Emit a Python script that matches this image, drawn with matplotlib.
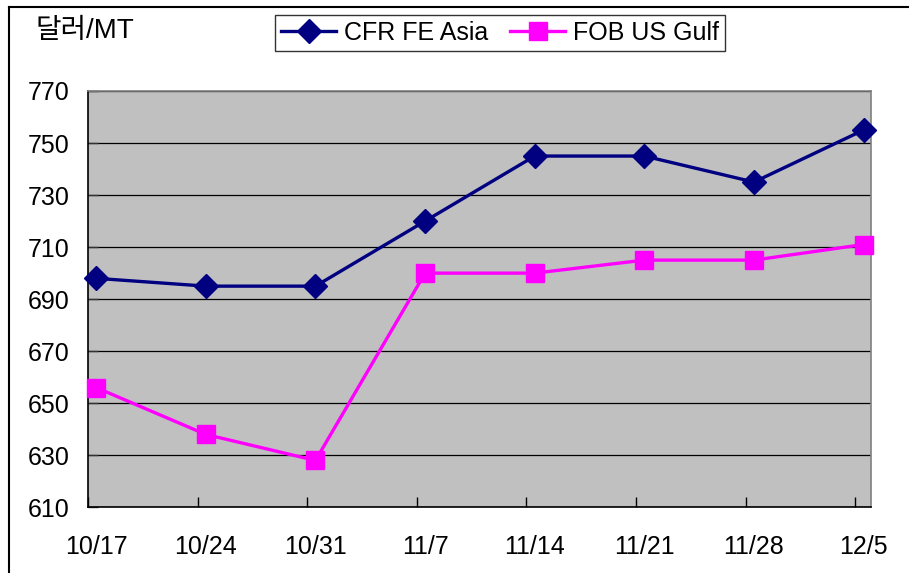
import numpy as np
import matplotlib
matplotlib.use("Agg")
import matplotlib.pyplot as plt
from matplotlib.lines import Line2D

# weekly prices, 달러/MT
dates = ["10/17", "10/24", "10/31", "11/7", "11/14", "11/21", "11/28", "12/5"]
cfr_fe_asia = [698, 695, 695, 720, 745, 745, 735, 755]
fob_us_gulf = [656, 638, 628, 700, 700, 705, 705, 711]
y_ticks = [610, 630, 650, 670, 690, 710, 730, 750, 770]

plt.rcParams['font.family'] = ['Liberation Sans', 'Noto Sans CJK KR']
plt.rcParams['font.size'] = 18

W, H = 909, 573
fig = plt.figure(figsize=(W / 100, H / 100), dpi=100)
ax = fig.add_axes([88 / W, 1 - 507.3 / H, (870.7 - 88) / W, (507.3 - 91) / H])
ax.set_facecolor('#C0C0C0')

idx = np.arange(len(dates))
xpos = idx + 0.075  # Excel puts the points a bit right of the ticks

ax.plot(xpos, cfr_fe_asia, color='#000080', lw=2.4, marker='D', ms=12,
        label='CFR FE Asia', clip_on=False, zorder=3)
ax.plot(xpos, fob_us_gulf, color='#FF00FF', lw=2.4, marker='s', ms=13,
        label='FOB US Gulf', clip_on=False, zorder=3)

ax.set_xlim(0, 7.14)
ax.set_ylim(610, 770)
ax.set_yticks(y_ticks)
ax.yaxis.grid(True, color='black', lw=0.9)
ax.set_axisbelow(True)

ax.set_xticks(idx)
ax.set_xticklabels([])
ax.set_xticks(xpos, minor=True)
ax.set_xticklabels(dates, minor=True)
ax.tick_params(axis='x', which='major', direction='in', length=7, width=1, color='black')
ax.tick_params(axis='x', which='minor', length=0, pad=20)
ax.tick_params(axis='y', direction='in', length=7, width=1, color='#333333', pad=13)

for side in ['left', 'bottom']:
    ax.spines[side].set_color('black')
    ax.spines[side].set_linewidth(1.2)
for side in ['top', 'right']:
    ax.spines[side].set_color('#808080')
    ax.spines[side].set_linewidth(1.2)

fig.text(36 / W, 1 - 31 / H, '달러/MT', va='center', ha='left', fontsize=20)

handles = [
    Line2D([], [], color='#000080', lw=2.4, marker='D', ms=12),
    Line2D([], [], color='#FF00FF', lw=2.4, marker='s', ms=13),
]
leg = fig.legend(handles, ['CFR FE Asia', 'FOB US Gulf'], ncol=2,
                 loc='center', bbox_to_anchor=(500 / W, 1 - 33 / H),
                 frameon=True, fancybox=False, edgecolor='black',
                 borderpad=0.25, handlelength=2.2, handletextpad=0.3,
                 columnspacing=0.9, borderaxespad=0)
leg.get_frame().set_linewidth(1.0)

# outer chart border (only top and left visible)
fig.add_artist(Line2D([9 / W, 9 / W], [0, 1 - 7 / H], color='black', lw=1.5))
fig.add_artist(Line2D([9 / W, 1], [1 - 7 / H, 1 - 7 / H], color='black', lw=1.5))

fig.savefig('out.png', dpi=100)
